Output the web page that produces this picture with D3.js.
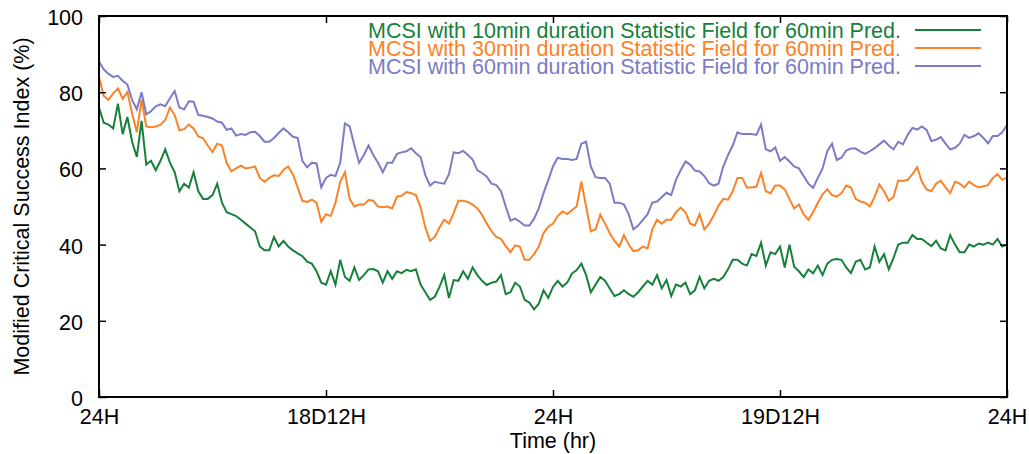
<!DOCTYPE html>
<html>
<head>
<meta charset="utf-8">
<script src="https://cdn.jsdelivr.net/npm/d3@7"></script>
<style>
  html, body { margin: 0; padding: 0; background: #fff; }
  svg { display: block; }
  text { font-family: "Liberation Sans", Arial, Helvetica, sans-serif; }
</style>
</head>
<body>
<svg id="chart" width="1029" height="454"></svg>
<script>
// Time axis: hours from the first "24H" mark, one sample every 15 minutes (0 .. 48 h)
const stepHours = 0.25;
const xTickHours = [0, 12, 24, 36, 48];
const xTickLabels = ["24H", "18D12H", "24H", "19D12H", "24H"];
const yTicks = [0, 20, 40, 60, 80, 100];

const seriesNames = [
  "MCSI with 10min duration Statistic Field for 60min Pred.",
  "MCSI with 30min duration Statistic Field for 60min Pred.",
  "MCSI with 60min duration Statistic Field for 60min Pred."
];
const seriesColors = ["#17803a", "#fa8228", "#7b7bc6"];

const mcsi10 = [
  76, 72, 71.5, 70.5, 77, 69, 73.5, 67, 63, 72.5, 61, 62,
  59.5, 62, 65, 61.5, 59, 54, 56, 55, 59, 54, 52, 52,
  53, 56, 51, 48.5, 48, 47.5, 46.5, 45.5, 44.5, 43.5, 39.5, 38.5,
  38.5, 42, 39.5, 41, 39.5, 38.5, 37.7, 37, 35.5, 35, 33, 30,
  29.5, 33, 29.5, 36, 31.5, 30.5, 34, 30.7, 32, 33.5, 33.6, 33,
  30, 33, 31, 33, 32.5, 33.4, 33, 33.5, 29.5, 27.5, 25.5, 26.3,
  28.9, 32, 26, 30.7, 30.5, 33, 31, 34, 32, 30.5, 29.4, 30,
  30.3, 32, 27, 27.5, 30, 29, 25.5, 24.8, 23, 24.5, 28, 26,
  28.9, 30.5, 29, 30, 32.4, 33.3, 35, 32, 27.5, 29.5, 31.5, 30.5,
  28.5, 26.5, 27, 28, 27, 26.3, 27.5, 29, 30.5, 29.5, 32, 28.5,
  30.7, 26.5, 29.5, 29, 30, 27, 28, 31.5, 28.5, 30.5, 31, 30.5,
  31.5, 33.5, 36, 36, 35, 34.5, 37.5, 37, 40.5, 34.5, 38, 37.5,
  39.5, 34, 40, 34.2, 33, 31.5, 33.5, 32.5, 34.5, 32, 35, 36,
  36.2, 36, 34, 32.5, 35.5, 36, 33.5, 34, 39.5, 35.5, 37.5, 33.5,
  36.5, 40, 40.5, 40.5, 42.5, 41.5, 41.5, 40.5, 39.6, 41, 39, 38.5,
  42.5, 40, 38, 38, 40, 39.5, 40.3, 40, 40.5, 40, 41.5, 39.5,
  40
];

const mcsi30 = [
  84, 79, 78, 79.7, 81, 78.3, 80, 74.5, 69.5, 78, 71, 70.8,
  71, 71.4, 72.7, 76, 74, 70, 70.3, 71.5, 70.5, 68.4, 67.9, 66,
  64.3, 66.5, 66, 61.4, 59.2, 60, 60.7, 60, 60.2, 60.5, 57.5, 56.5,
  57.5, 58.2, 58, 59.6, 60.5, 58.5, 55, 51.5, 51.2, 51.8, 51, 46,
  48, 47.5, 51, 56.5, 59, 52, 50, 50.5, 50.5, 51.7, 51.5, 50,
  49.8, 50, 49.5, 52.6, 52.8, 53.8, 53.5, 53, 49.8, 44.5, 41, 42,
  44.5, 46.5, 45.5, 48.3, 51.5, 51.5, 51.2, 50.5, 49.5, 47.8, 45.5, 43.5,
  42, 41.5, 39.6, 38, 39.8, 39.5, 36, 36, 37.5, 39.5, 43, 44.7,
  45.5, 47.5, 48.7, 48, 49, 50, 56.5, 50, 43.5, 44, 47.8, 45.5,
  43, 41, 39.5, 42.5, 40, 38.3, 38.5, 39.5, 39, 44, 46.5, 45.5,
  46.5, 46.5, 48.5, 49.7, 48.5, 45.5, 45, 48, 44, 45.5, 47.7, 50.2,
  52, 51.8, 54, 57.5, 57.5, 55, 55, 55.2, 58.8, 54, 53.5, 55.5,
  55.5, 54.5, 52, 49.5, 50.5, 48, 46.5, 48.5, 51, 53.2, 54.5, 53,
  52.6, 53.5, 55.5, 55, 52, 51.3, 51, 50, 52.5, 55.8, 54, 51.5,
  52.5, 56.8, 56.7, 57, 58.5, 60.3, 56.5, 54.5, 54, 56, 56.8, 55,
  53.5, 56.5, 56, 55, 56.5, 55.6, 55, 55.3, 55.6, 57.5, 58.5, 57,
  57.6
];

const mcsi60 = [
  88, 86, 84.8, 84, 84.3, 83, 82, 78, 75.5, 80, 74.2, 75,
  76.3, 76.8, 76.3, 78.4, 80.3, 76, 75.5, 77.6, 77.5, 74, 73.8, 73.5,
  73.1, 72.3, 72, 70.1, 70.5, 68.6, 69, 68.8, 69.5, 69.6, 68.5, 67,
  67, 68, 69.3, 70.5, 69.5, 68.3, 68, 62, 60.3, 61.5, 61.3, 55,
  57.5, 58.3, 58, 61.5, 71.8, 71, 66, 61.5, 63.5, 66, 63.5, 61.5,
  59, 61.5, 61.5, 63.8, 64.2, 64.5, 65.3, 64, 63, 58.2, 55.5, 56.5,
  56.2, 56, 58.5, 64.2, 64, 64.6, 63.5, 62.3, 59.5, 58.8, 57.8, 56,
  55.6, 54, 50, 46.3, 46.8, 46, 45, 45, 46.8, 49.5, 53.5, 56.9,
  60.5, 62.8, 62.5, 62.5, 62.2, 62.5, 66.5, 67, 60.5, 57.7, 57.5, 57.5,
  56, 51, 51, 50.5, 48, 44, 45, 46.5, 48, 51, 51.3, 52.5,
  53.6, 53, 57, 59.5, 61.8, 61, 59.4, 59.2, 58, 56.1, 55.5, 56,
  60.5, 63.5, 66, 69.5, 69, 69, 69, 68.8, 71.5, 65, 64.5, 65.5,
  62, 63, 61.8, 60.5, 60, 58, 56, 54.9, 57.5, 60, 64.5, 66.5,
  62.2, 62.8, 64.7, 65.2, 65.2, 64.4, 63.8, 64.5, 65.3, 66.3, 67.3, 66,
  65, 67, 66.3, 68.8, 70.6, 70.2, 71, 70.1, 67.2, 67.5, 68.2, 66.5,
  65, 65.4, 66.5, 68.8, 68, 68.5, 69.2, 68, 66.6, 68.5, 68.5, 69.5,
  71.4
];

const allSeries = [mcsi10, mcsi30, mcsi60];

(function draw() {
  const svg = d3.select("#chart");
  const W = 1029, H = 454;
  const margin = { left: 99, right: W - 1007, top: 16, bottom: H - 397 };
  const x = d3.scaleLinear().domain([0, 48]).range([margin.left, W - margin.right]);
  const y = d3.scaleLinear().domain([0, 100]).range([H - margin.bottom, margin.top]);
  const fontSize = 21.5;
  const tickLen = 7;

  const line = d3.line()
    .x((d, i) => x(i * stepHours))
    .y(d => y(d))
    .curve(d3.curveLinear);

  const plot = svg.append("g");
  allSeries.forEach((s, k) => {
    plot.append("path")
      .datum(s)
      .attr("fill", "none")
      .attr("stroke", seriesColors[k])
      .attr("stroke-width", 2)
      .attr("d", line);
  });

  const axBottom = svg.append("g")
    .attr("transform", `translate(0,${y(0)})`)
    .call(d3.axisBottom(x).tickValues(xTickHours).tickSize(-tickLen)
          .tickFormat((d, i) => xTickLabels[i]).tickPadding(0));
  const axLeft = svg.append("g")
    .attr("transform", `translate(${x(0)},0)`)
    .call(d3.axisLeft(y).tickValues(yTicks).tickSize(-tickLen).tickPadding(0));
  const axTop = svg.append("g")
    .attr("transform", `translate(0,${y(100)})`)
    .call(d3.axisTop(x).tickValues(xTickHours).tickSize(-tickLen).tickFormat(""));
  const axRight = svg.append("g")
    .attr("transform", `translate(${x(48)},0)`)
    .call(d3.axisRight(y).tickValues(yTicks).tickSize(-tickLen).tickFormat(""));

  [axBottom, axLeft, axTop, axRight].forEach(g => {
    g.select(".domain").remove();
    g.selectAll(".tick line").attr("stroke", "#000").attr("stroke-width", 1.5);
    g.selectAll("text").attr("font-size", fontSize).attr("fill", "#000")
      .attr("font-family", '"Liberation Sans", Arial, sans-serif');
  });
  axBottom.selectAll(".tick text").attr("y", 27).attr("dy", 0);
  axLeft.selectAll(".tick text").attr("x", -16).attr("dy", 0).attr("y", 8.5);

  svg.append("rect")
    .attr("x", x(0)).attr("y", y(100))
    .attr("width", x(48) - x(0)).attr("height", y(0) - y(100))
    .attr("fill", "none").attr("stroke", "#000").attr("stroke-width", 2);

  svg.append("text")
    .attr("x", (x(0) + x(48)) / 2).attr("y", 448)
    .attr("text-anchor", "middle").attr("font-size", fontSize)
    .text("Time (hr)");
  svg.append("text")
    .attr("transform", `translate(28.5,${(y(0) + y(100)) / 2}) rotate(-90)`)
    .attr("text-anchor", "middle").attr("font-size", fontSize)
    .text("Modified Critical Success Index (%)");

  // Legend: one text block with a line per series (rows are tightly stacked as in the reference)
  const legendBase = [37.5, 55.5, 73.5];
  const legendText = svg.append("text")
    .attr("text-anchor", "end").attr("font-size", fontSize);
  seriesNames.forEach((name, k) => {
    legendText.append("tspan")
      .attr("x", 901).attr("y", legendBase[k])
      .attr("fill", seriesColors[k])
      .text(name);
    svg.append("line")
      .attr("x1", 915).attr("x2", 981)
      .attr("y1", legendBase[k] - 7.5).attr("y2", legendBase[k] - 7.5)
      .attr("stroke", seriesColors[k]).attr("stroke-width", 2);
  });
})();
</script>
</body>
</html>
